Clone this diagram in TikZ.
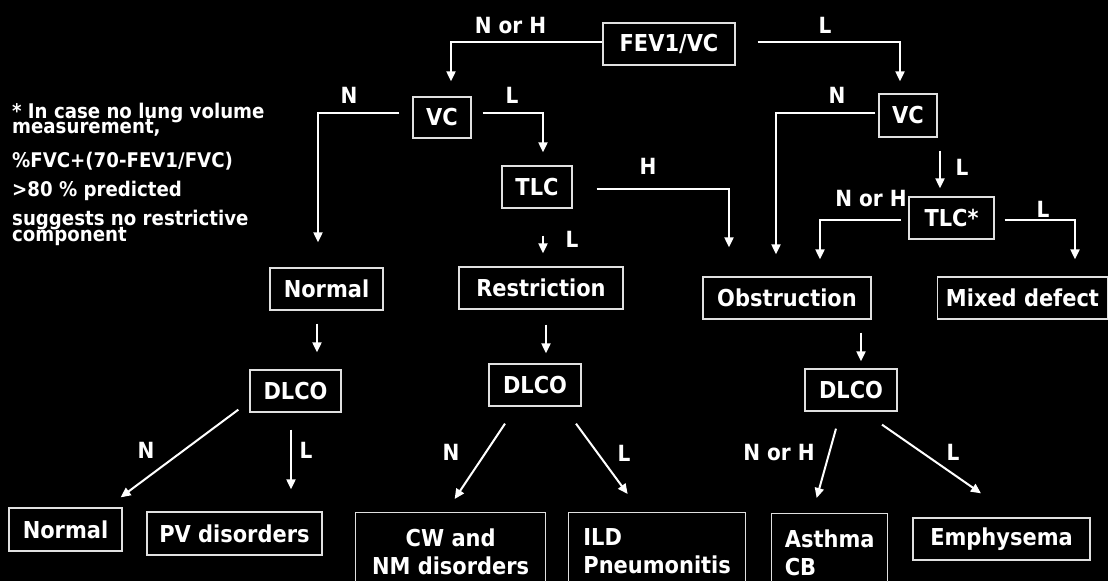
\documentclass[tikz,border=0pt]{standalone}
\usepackage{fontspec}
\setmainfont{DejaVu Sans Condensed}
\usetikzlibrary{arrows.meta}
\newcommand\mfont{\fontsize{23.3}{28}\selectfont\bfseries}
\newcommand\lfont{\fontsize{22.3}{24}\selectfont\bfseries}
\newcommand\nfont{\fontsize{20.2}{16}\selectfont\bfseries}
\begin{document}
\begin{tikzpicture}[x=1pt,y=-1pt,
  box/.style={draw=white!88!black, line width=1.3pt, text=white, inner sep=0pt, font=\mfont},
  lbl/.style={text=white, font=\lfont, anchor=base, inner sep=0pt},
  note/.style={text=white, font=\nfont, anchor=base west, inner sep=0pt},
  arr/.style={draw=white, line width=2pt, -{Triangle[length=10pt,width=9pt]}}]
\fill[black] (0,0) rectangle (1108,581);
\useasboundingbox (0,0) rectangle (1108,581);
\clip (0,0) rectangle (1108,581);
% note
\node[note] (n1) at (12,118) {* In case no lung volume};
\node[note] (n2) at (12,133) {measurement,};
\node[note] (n3) at (12,167) {\%FVC+(70-FEV1/FVC)};
\node[note] (n4) at (12,196) {>80 \% predicted};
\node[note] (n5) at (12,225) {suggests no restrictive};
\node[note] (n6) at (12,241) {component};
% boxes
\node[box, minimum width=132pt, minimum height=42pt] (fev) at (669,44) {FEV1/VC};
\node[box, minimum width=58pt, minimum height=41pt] (vcL) at (442,117.5) {VC};
\node[box, minimum width=70pt, minimum height=42pt] (tlcL) at (537,187) {TLC};
\node[box, minimum width=58pt, minimum height=43pt] (vcR) at (908,115.5) {VC};
\node[box, minimum width=85pt, minimum height=42pt] (tlcS) at (951.5,218) {TLC*};
\node[box, minimum width=113pt, minimum height=42pt] (normM) at (326.5,289) {Normal};
\node[box, minimum width=164pt, minimum height=42pt] (restr) at (541,288) {Restriction};
\node[box, minimum width=168pt, minimum height=42pt] (obst) at (787,298) {Obstruction};
\node[box, minimum width=170pt, minimum height=42pt] (mixed) at (1022.5,298) {Mixed defect};
\node[box, minimum width=91pt, minimum height=42pt] (dlcoA) at (295.5,391) {DLCO};
\node[box, minimum width=92pt, minimum height=42pt] (dlcoB) at (535,385) {DLCO};
\node[box, minimum width=92pt, minimum height=42pt] (dlcoC) at (851,390) {DLCO};
\node[box, minimum width=113pt, minimum height=43pt] (normB) at (65.5,529.5) {Normal};
\node[box, minimum width=175pt, minimum height=43pt] (pv) at (234.5,533.5) {PV disorders};
\node[box, minimum width=190pt, minimum height=78pt, align=center, anchor=north west] (cw) at (355,512) {CW and\\NM disorders};
\node[box, minimum width=177pt, minimum height=78pt, align=left, anchor=north west] (ild) at (568,512) {ILD\\Pneumonitis};
\node[box, minimum width=116pt, minimum height=78pt, align=left, anchor=north west] (asthma) at (771,513) {Asthma\\CB\hspace*{58pt}};
\node[box, minimum width=177pt, minimum height=42pt] (emph) at (1001.5,539) {Emphysema};
% connectors
\draw[arr, shorten >=15pt] ([yshift=2pt]fev.west) -| ([xshift=9pt]vcL.north);
\draw[arr, shorten >=12pt] ([xshift=22pt,yshift=2pt]fev.east) -| ([xshift=-8pt]vcR.north);
\draw[arr, shorten >=25pt] ([xshift=-13pt,yshift=5pt]vcL.west) -| ([xshift=-8.5pt]normM.north);
\draw[arr, shorten >=13pt] ([xshift=11pt,yshift=4.5pt]vcL.east) -| ([xshift=6pt]tlcL.north);
\draw[arr] ([xshift=6pt,yshift=-27pt]tlcL.south) -- ([xshift=2pt,yshift=13pt]restr.north);
\draw[arr, shorten >=29pt] ([xshift=24pt,yshift=-2pt]tlcL.east) -| ([xshift=-58pt]obst.north);
\draw[arr, shorten >=22pt] ([xshift=-3pt,yshift=2.5pt]vcR.west) -| ([xshift=-11pt]obst.north);
\draw[arr] ([xshift=32pt,yshift=-13pt]vcR.south) -- ([xshift=-11.5pt,yshift=8pt]tlcS.north);
\draw[arr, shorten >=17pt] ([xshift=-7.5pt,yshift=-2pt]tlcS.west) -| ([xshift=33pt]obst.north);
\draw[arr, shorten >=17pt] ([xshift=10pt,yshift=-2pt]tlcS.east) -| ([xshift=52.5pt]mixed.north);
\draw[arr] ([xshift=-9.5pt,yshift=-13pt]normM.south) -- ([xshift=21.5pt,yshift=17pt]dlcoA.north);
\draw[arr] ([xshift=5pt,yshift=-15pt]restr.south) -- ([xshift=11pt,yshift=10pt]dlcoB.north);
\draw[arr] ([xshift=74pt,yshift=-13pt]obst.south) -- ([xshift=10pt,yshift=7pt]dlcoC.north);
\draw[arr] ([xshift=-11pt,yshift=3pt]dlcoA.south west) -- ([xshift=-2pt,yshift=10pt]normB.north east);
\draw[arr] ([xshift=-4.5pt,yshift=-17pt]dlcoA.south) -- ([xshift=56.5pt,yshift=22pt]pv.north);
\draw[arr] ([xshift=-30pt,yshift=-17pt]dlcoB.south) -- ([xshift=4pt,yshift=13pt]cw.north);
\draw[arr] ([xshift=41pt,yshift=-17pt]dlcoB.south) -- ([xshift=-29.5pt,yshift=18pt]ild.north);
\draw[arr] ([xshift=-15pt,yshift=-17pt]dlcoC.south) -- ([xshift=-13pt,yshift=15pt]asthma.north);
\draw[arr] ([xshift=31pt,yshift=-13pt]dlcoC.south) -- ([xshift=-20.5pt,yshift=24pt]emph.north);
% labels
\node[lbl] (l1) at (510.5,33) {N or H};
\node[lbl] (l2) at (825,33) {L};
\node[lbl] (l3) at (349,103) {N};
\node[lbl] (l4) at (512,103) {L};
\node[lbl] (l5) at (648,174) {H};
\node[lbl] (l6) at (572,247) {L};
\node[lbl] (l7) at (837,103) {N};
\node[lbl] (l8) at (962,175) {L};
\node[lbl] (l9) at (871,206) {N or H};
\node[lbl] (l10) at (1043,217) {L};
\node[lbl] (l11) at (146,458) {N};
\node[lbl] (l12) at (306,458) {L};
\node[lbl] (l13) at (451,460) {N};
\node[lbl] (l14) at (624,461) {L};
\node[lbl] (l15) at (779,460) {N or H};
\node[lbl] (l16) at (953,460) {L};
\end{tikzpicture}
\end{document}
